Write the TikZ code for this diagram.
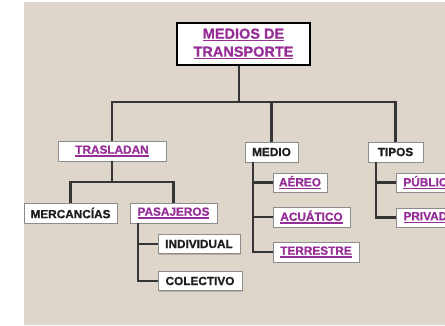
\documentclass[tikz,border=0pt]{standalone}
\usepackage{fontspec}
\setmainfont{Liberation Sans}[BoldFont=Liberation Sans Bold, BoldFeatures={FakeBold=0.9}]
\usetikzlibrary{shadows}
\definecolor{bgc}{HTML}{DED6CA}
\definecolor{lnk}{HTML}{962E98}
\definecolor{ink}{HTML}{1E1E1E}
\newcommand{\lk}[1]{\textcolor{lnk}{\setbox0\hbox{#1}\rlap{\rule[-2.8pt]{\wd0}{1.3pt}}\box0}}
\begin{document}
\begin{tikzpicture}[x=1pt,y=-1pt,
  box/.style={draw=black!45, line width=0.8pt, fill=white, inner sep=0pt,
    font=\bfseries\fontsize{11.8}{13}\selectfont, text=ink,
    drop shadow={shadow xshift=1.3pt, shadow yshift=-1.3pt, opacity=0.35, fill=black!60}},
  titlebox/.style={box, draw=black, line width=1.4pt, align=center,
    font=\bfseries\fontsize{14.5}{18}\selectfont},
  conn/.style={draw=ink!90, line width=2.1pt}]
\useasboundingbox (0,0) rectangle (445,325);
\clip (0,0) rectangle (445,325);
\fill[bgc] (24,2) rectangle (445,325);

\node[titlebox, minimum width=133pt, minimum height=42pt] (title) at (243.5,44) {\lk{MEDIOS DE}\\\lk{TRANSPORTE}};
\node[box, minimum width=108pt, minimum height=20pt] (trasladan) at (112,151) {\lk{TRASLADAN}};
\node[box, minimum width=53pt, minimum height=20pt] (medio) at (271.5,152) {MEDIO};
\node[box, minimum width=55pt, minimum height=20pt] (tipos) at (395.5,152) {TIPOS};
\node[box, minimum width=93pt, minimum height=20pt] (mercancias) at (70.5,213) {MERCANCÍAS};
\node[box, minimum width=87pt, minimum height=20pt] (pasajeros) at (173.5,213) {\lk{PASAJEROS}};
\node[box, minimum width=82pt, minimum height=19pt] (individual) at (199,244) {INDIVIDUAL};
\node[box, minimum width=84pt, minimum height=19pt] (colectivo) at (200,281) {COLECTIVO};
\node[box, minimum width=54pt, minimum height=19pt] (aereo) at (300,182.5) {\lk{AÉREO}};
\node[box, minimum width=77pt, minimum height=20pt] (acuatico) at (311.5,217) {\lk{ACUÁTICO}};
\node[box, minimum width=86pt, minimum height=20pt] (terrestre) at (316,252) {\lk{TERRESTRE}};
\node[box, minimum width=68pt, minimum height=19pt] (publico) at (430,182.5) {\lk{PÚBLICO}};
\node[box, minimum width=68pt, minimum height=19pt] (privado) at (430,217.5) {\lk{PRIVADO}};

\coordinate (j0) at (239,102);
\coordinate (j1) at (112,182);
\coordinate (pv) at (138,0);
\coordinate (mv) at (253,0);
\coordinate (tv) at (376,0);

\draw[conn] (title.south -| j0) -- (j0);
\draw[conn] (trasladan.north) -- (trasladan.north |- j0) -- (tipos.north |- j0) -- (tipos.north);
\draw[conn] (medio.north) -- (medio.north |- j0);
\draw[conn] (trasladan.south) -- (trasladan.south |- j1);
\draw[conn] (mercancias.north) -- (mercancias.north |- j1) -- (pasajeros.north |- j1) -- (pasajeros.north);
\draw[conn] (pv |- pasajeros.south) -- (pv |- colectivo.west) -- (colectivo.west);
\draw[conn] (pv |- individual.west) -- (individual.west);
\draw[conn] (mv |- medio.south) -- (mv |- terrestre.west) -- (terrestre.west);
\draw[conn] (mv |- aereo.west) -- (aereo.west);
\draw[conn] (mv |- acuatico.west) -- (acuatico.west);
\draw[conn] (tv |- tipos.south) -- (tv |- privado.west) -- (privado.west);
\draw[conn] (tv |- publico.west) -- (publico.west);
\end{tikzpicture}
\end{document}
